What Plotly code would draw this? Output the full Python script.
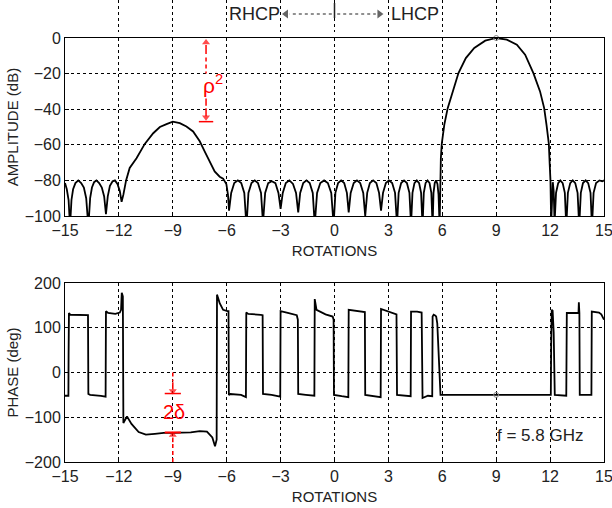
import plotly.graph_objects as go

# ---------------- data ----------------
amp_x = [-15.00, -14.90, -14.80, -14.72, -14.64, -14.55, -14.42, -14.26, -14.10, -13.95, -13.82, -13.70,
         -13.60, -13.50, -13.38, -13.25, -13.10, -12.95, -12.82, -12.72, -12.62, -12.50, -12.35, -12.22,
         -12.08, -11.95, -11.85, -11.75,
         -11.60, -11.40, -11.02, -10.56, -10.09, -9.72, -9.35, -9.00, -8.61, -8.24, -7.87, -7.50, -7.22,
         -6.94, -6.67, -6.39, -6.20, -6.02, -5.93, -5.87,
         -5.75, -5.58, -5.38, -5.19, -5.02, -4.90,
         -4.79, -4.62, -4.44, -4.26, -4.09, -3.98,
         -3.86, -3.69, -3.49, -3.29, -3.12, -3.00,
         -2.88, -2.71, -2.51, -2.31, -2.14, -2.02,
         -1.91, -1.74, -1.56, -1.38, -1.21, -1.10,
         -0.97, -0.79, -0.58, -0.37, -0.18, -0.05,
         0.05, 0.20, 0.37, 0.54, 0.69, 0.79,
         0.90, 1.07, 1.25, 1.43, 1.60, 1.71,
         1.82, 1.97, 2.15, 2.33, 2.48, 2.59,
         2.70, 2.86, 3.03, 3.21, 3.37, 3.48,
         3.57, 3.71, 3.87, 4.03, 4.17, 4.26,
         4.34, 4.45, 4.58, 4.71, 4.82, 4.90,
         4.97, 5.07, 5.18, 5.29, 5.39, 5.46,
         5.51, 5.58, 5.65, 5.73, 5.79, 5.85,
         5.88, 5.92, 5.97, 6.11, 6.30, 6.57, 6.90, 7.31, 7.78, 8.39, 9.00, 9.59, 10.15, 10.61,
         11.07, 11.44, 11.67, 11.80, 11.93, 11.98, 12.02, 12.06,
         12.10, 12.15, 12.20, 12.25,
         12.33, 12.45, 12.57, 12.70, 12.82, 12.90,
         12.99, 13.12, 13.26, 13.40, 13.53, 13.62,
         13.71, 13.83, 13.98, 14.12, 14.25, 14.33,
         14.42, 14.56, 14.75, 14.90, 15.00]
amp_db = [-81.5, -85, -91, -106, -91, -85, -81.5, -80, -81.5, -84, -90, -106,
          -90, -84, -81, -80, -81.5, -84, -89, -99, -89, -83, -80.5, -80,
          -82, -86, -92, -88,
          -80, -73, -67.5, -59.5, -53.5, -50, -48.4, -47, -47.8, -49.7, -52.5, -58, -63.8,
          -69.4, -75, -77.9, -79, -82, -88, -97,
          -87, -81.5, -80, -81.5, -87, -106,
          -87, -81.5, -80, -81.5, -87, -104,
          -87, -81.5, -80.5, -81.5, -87, -96,
          -87, -81.5, -80, -82, -87, -98,
          -87, -81.5, -80, -81.5, -87, -105,
          -87, -81.5, -80, -81.5, -87, -105,
          -87, -81.5, -80, -81.5, -87, -98,
          -87, -81.5, -80, -81.5, -87, -100,
          -87, -81.5, -80, -81.5, -87, -97,
          -87, -81.5, -80, -81.5, -87, -105,
          -87, -81.5, -80, -81.5, -87, -105,
          -87, -81.5, -80, -81.5, -87, -106,
          -87, -81.5, -80, -81.5, -87, -106,
          -87, -81.5, -80, -82, -88, -106,
          -80, -67.5, -59.5, -48.8, -39.4, -30, -19.7, -11.3, -5.6, -1.5, 0, -0.9, -3.75, -9.4,
          -19.7, -30, -39.4, -48.8, -59.5, -71.3, -80, -104,
          -86, -81, -86, -104,
          -87, -81.5, -80, -81.5, -87, -106,
          -87, -81.5, -80, -81.5, -87, -106,
          -87, -81.5, -80, -81.5, -87, -106,
          -87, -81.5, -80, -80.5, -80]

ph_x = [-15.00, -14.81, -14.80, -14.78, -14.70, -14.30, -13.72, -13.70, -13.60, -13.00, -12.74, -12.72,
        -12.60, -12.20, -11.95, -11.88, -11.84, -11.78, -11.75, -11.55, -11.30, -10.90, -10.50, -10.00,
        -9.50, -9.00, -8.00, -7.50, -7.10, -6.80, -6.65, -6.56, -6.54, -6.39, -6.20, -5.96, -5.90, -5.88,
        -5.80, -5.20, -4.93, -4.91, -4.80, -4.10, -4.00, -3.98, -3.50, -3.02, -3.00, -2.60, -2.10, -2.04,
        -2.02, -1.60, -1.12, -1.10, -1.00, -0.50, -0.10, -0.05, -0.03, 0.40, 0.77, 0.79, 1.20, 1.69, 1.71,
        2.20, 2.57, 2.59, 3.00, 3.45, 3.48, 3.90, 4.24, 4.26, 4.60, 4.85, 4.90, 5.20, 5.44, 5.46, 5.52,
        5.62, 5.66, 5.72, 5.78, 5.86, 5.90, 9.00, 12.04, 12.06, 12.09, 12.14, 12.20, 12.26, 12.90, 12.93,
        13.20, 13.58, 13.60, 13.63, 13.65, 14.30, 14.32, 14.72, 14.85, 15.00]
ph_deg = [-52, -52, 40, 133, 129, 129, 128, -48, -50, -52, -54, 137,
          133, 131, 134, 140, 178, 170, -113, -98, -115, -133, -139, -137,
          -135, -135, -134, -131, -132, -145, -165, -150, 174, 155, 140, 137, 137, -50,
          -48, -50, -55, 134, 131, 129, 128, -48, -50, -54, 137, 133, 128, 118,
          -48, -50, -52, 164, 140, 130, 125, 118, -50, -53, -55, 140, 137, 135, -50,
          -52, -55, 142, 136, 130, -50, -52, -53, 136, 136, 134, -57, -52, -53, 125, 129,
          127, 125, 110, 58, -38, -50, -50, -50, 60, 140, 138, 90, -50, -52, 133,
          133, 133, 157, 133, -50, -50, 136, 134, 130, 118]

x_ticks = [-15, -12, -9, -6, -3, 0, 3, 6, 9, 12, 15]
amp_ticks = [-100, -80, -60, -40, -20, 0]
ph_ticks = [-200, -100, 0, 100, 200]

peak_x, peak_amp, peak_phase = 9, 0, -50
rho_x, rho_top, rho_bottom = -7.15, 0, -47
delta_x, delta_top, delta_bottom = -9, -47, -134
freq_label = "f = 5.8 GHz"

# ---------------- figure ----------------
FONT = "Liberation Sans, Arial, sans-serif"
TXT = "#222222"
RED = "#ff0000"
HDR = "#222222"

H = 508
PLOT_H = H - 46          # margin bottom 46, top 0
def py(pixel_from_top):  # paper fraction of a pixel row
    return 1 - pixel_from_top / PLOT_H

fig = go.Figure()
fig.add_trace(go.Scatter(x=amp_x, y=amp_db, mode="lines", line=dict(color="black", width=1.8),
                         xaxis="x", yaxis="y", showlegend=False, hoverinfo="skip"))
fig.add_trace(go.Scatter(x=ph_x, y=ph_deg, mode="lines", line=dict(color="black", width=1.8),
                         xaxis="x2", yaxis="y2", showlegend=False, hoverinfo="skip"))
fig.add_trace(go.Scatter(x=[peak_x], y=[peak_amp], mode="markers", xaxis="x", yaxis="y",
                         marker=dict(symbol="circle-open", size=5, color="#888888", line=dict(width=1)),
                         showlegend=False, cliponaxis=False))
fig.add_trace(go.Scatter(x=[peak_x], y=[peak_phase], mode="markers", xaxis="x2", yaxis="y2",
                         marker=dict(symbol="circle-open", size=5, color="#888888", line=dict(width=1)),
                         showlegend=False))

# red arrowheads (annotation marks)
fig.add_trace(go.Scatter(x=[rho_x, rho_x], y=[rho_top - 2.5, rho_bottom + 2.5], mode="markers",
                         xaxis="x", yaxis="y", cliponaxis=False, showlegend=False, hoverinfo="skip",
                         marker=dict(symbol=["triangle-up", "triangle-down"], size=[7, 7], color=RED,
                                     line=dict(width=0))))
fig.add_trace(go.Scatter(x=[delta_x, delta_x], y=[delta_top + 5.5, delta_bottom - 5.5], mode="markers",
                         xaxis="x2", yaxis="y2", cliponaxis=False, showlegend=False, hoverinfo="skip",
                         marker=dict(symbol=["triangle-down", "triangle-up"], size=[7, 7], color=RED,
                                     line=dict(width=0))))

# header arrows on an invisible axis occupying the top margin strip
fig.add_trace(go.Scatter(x=[-2.7, 2.5], y=[0.5625, 0.5625], mode="markers", xaxis="x", yaxis="y3",
                         cliponaxis=False, showlegend=False, hoverinfo="skip",
                         marker=dict(symbol=["triangle-left", "triangle-right"], size=[8, 8], color=HDR,
                                     line=dict(width=0))))

axis_common = dict(showline=True, linecolor="black", linewidth=1, mirror=True,
                   showgrid=True, gridcolor="black", gridwidth=1, griddash="3px,3px",
                   ticks="inside", ticklen=4, tickcolor="black", zeroline=False,
                   ticklabeloverflow="allow",
                   tickfont=dict(family=FONT, size=16, color=TXT))
title_font = dict(family=FONT, size=15, color=TXT)

fig.update_layout(
    width=612, height=H,
    margin=dict(l=65, r=8, t=0, b=46, autoexpand=False),
    paper_bgcolor="white", plot_bgcolor="white",
    font=dict(family=FONT, color=TXT),
    xaxis=dict(domain=[0, 1], anchor="y", range=[-15, 15], tickvals=x_ticks,
               title=dict(text="ROTATIONS", font=title_font, standoff=7), **axis_common),
    yaxis=dict(domain=[py(216), py(38)], anchor="x", range=[-100, 0], tickvals=amp_ticks,
               title=dict(text="AMPLITUDE (dB)", font=title_font, standoff=2), **axis_common),
    xaxis2=dict(domain=[0, 1], anchor="y2", range=[-15, 15], tickvals=x_ticks,
                title=dict(text="ROTATIONS", font=title_font, standoff=7), **axis_common),
    yaxis2=dict(domain=[0, py(283)], anchor="x2", range=[-200, 200], tickvals=ph_ticks,
                title=dict(text="PHASE (deg)", font=title_font, standoff=2), **axis_common),
    yaxis3=dict(domain=[py(32), 1], anchor="free", position=0, range=[0, 1], visible=False,
                fixedrange=True),
)

shapes = []
annos = []

# rho^2 annotation (top panel)
shapes.append(dict(type="line", xref="x", yref="y", x0=rho_x, x1=rho_x, y0=-4, y1=-9,
                   line=dict(color=RED, width=1.5)))
shapes.append(dict(type="line", xref="x", yref="y", x0=rho_x, x1=rho_x, y0=-11, y1=-20,
                   line=dict(color=RED, width=1.5, dash="4px,3px")))
shapes.append(dict(type="line", xref="x", yref="y", x0=rho_x, x1=rho_x, y0=-34, y1=-38,
                   line=dict(color=RED, width=1.5)))
shapes.append(dict(type="line", xref="x", yref="y", x0=rho_x, x1=rho_x, y0=-39.5, y1=-44,
                   line=dict(color=RED, width=1.5)))
shapes.append(dict(type="line", xref="x", yref="y", x0=rho_x - 0.4, x1=rho_x + 0.4, y0=rho_bottom, y1=rho_bottom,
                   line=dict(color=RED, width=1.5)))
annos.append(dict(xref="x", yref="y", x=rho_x + 0.4, y=-26, text="\u03c1<sup>2</sup>", showarrow=False,
                  font=dict(family=FONT, size=21, color=RED)))

# 2 delta annotation (bottom panel)
shapes.append(dict(type="line", xref="x2", yref="y2", x0=delta_x, x1=delta_x, y0=0, y1=-20,
                   line=dict(color=RED, width=1.5, dash="4px,3px")))
shapes.append(dict(type="line", xref="x2", yref="y2", x0=delta_x, x1=delta_x, y0=-22, y1=-38,
                   line=dict(color=RED, width=1.5)))
shapes.append(dict(type="line", xref="x2", yref="y2", x0=delta_x - 0.45, x1=delta_x + 0.45,
                   y0=delta_top, y1=delta_top, line=dict(color=RED, width=1.5)))
shapes.append(dict(type="line", xref="x2", yref="y2", x0=delta_x - 0.45, x1=delta_x + 0.45,
                   y0=delta_bottom, y1=delta_bottom, line=dict(color=RED, width=2)))
shapes.append(dict(type="line", xref="x2", yref="y2", x0=delta_x, x1=delta_x, y0=-145, y1=-156,
                   line=dict(color=RED, width=1.5)))
shapes.append(dict(type="line", xref="x2", yref="y2", x0=delta_x, x1=delta_x, y0=-160, y1=-200,
                   line=dict(color=RED, width=1.5, dash="4px,3px")))
annos.append(dict(xref="x2", yref="y2", x=delta_x + 0.05, y=-88, text="2\u03b4", showarrow=False,
                  font=dict(family=FONT, size=20, color=RED)))

# frequency label
annos.append(dict(xref="x2", yref="y2", x=11.45, y=-140, text=freq_label, showarrow=False,
                  font=dict(family=FONT, size=17, color=TXT)))

# header RHCP <---|---> LHCP
annos.append(dict(xref="x", yref="paper", x=-4.45, y=py(14), xanchor="center", yanchor="middle",
                  text="RHCP", showarrow=False, font=dict(family=FONT, size=18, color=TXT)))
annos.append(dict(xref="x", yref="paper", x=4.5, y=py(14), xanchor="center", yanchor="middle",
                  text="LHCP", showarrow=False, font=dict(family=FONT, size=18, color=TXT)))
shapes.append(dict(type="line", xref="x", yref="paper", x0=0, x1=0, y0=py(18), y1=py(3),
                   line=dict(color=HDR, width=1.5)))
shapes.append(dict(type="line", xref="x", yref="paper", x0=-0.15, x1=-2.5, y0=py(14), y1=py(14),
                   line=dict(color=HDR, width=1.2, dash="3px,3px")))
shapes.append(dict(type="line", xref="x", yref="paper", x0=0.15, x1=2.3, y0=py(14), y1=py(14),
                   line=dict(color=HDR, width=1.2, dash="3px,3px")))

fig.update_layout(shapes=shapes, annotations=annos)
fig.write_html("out.html")
